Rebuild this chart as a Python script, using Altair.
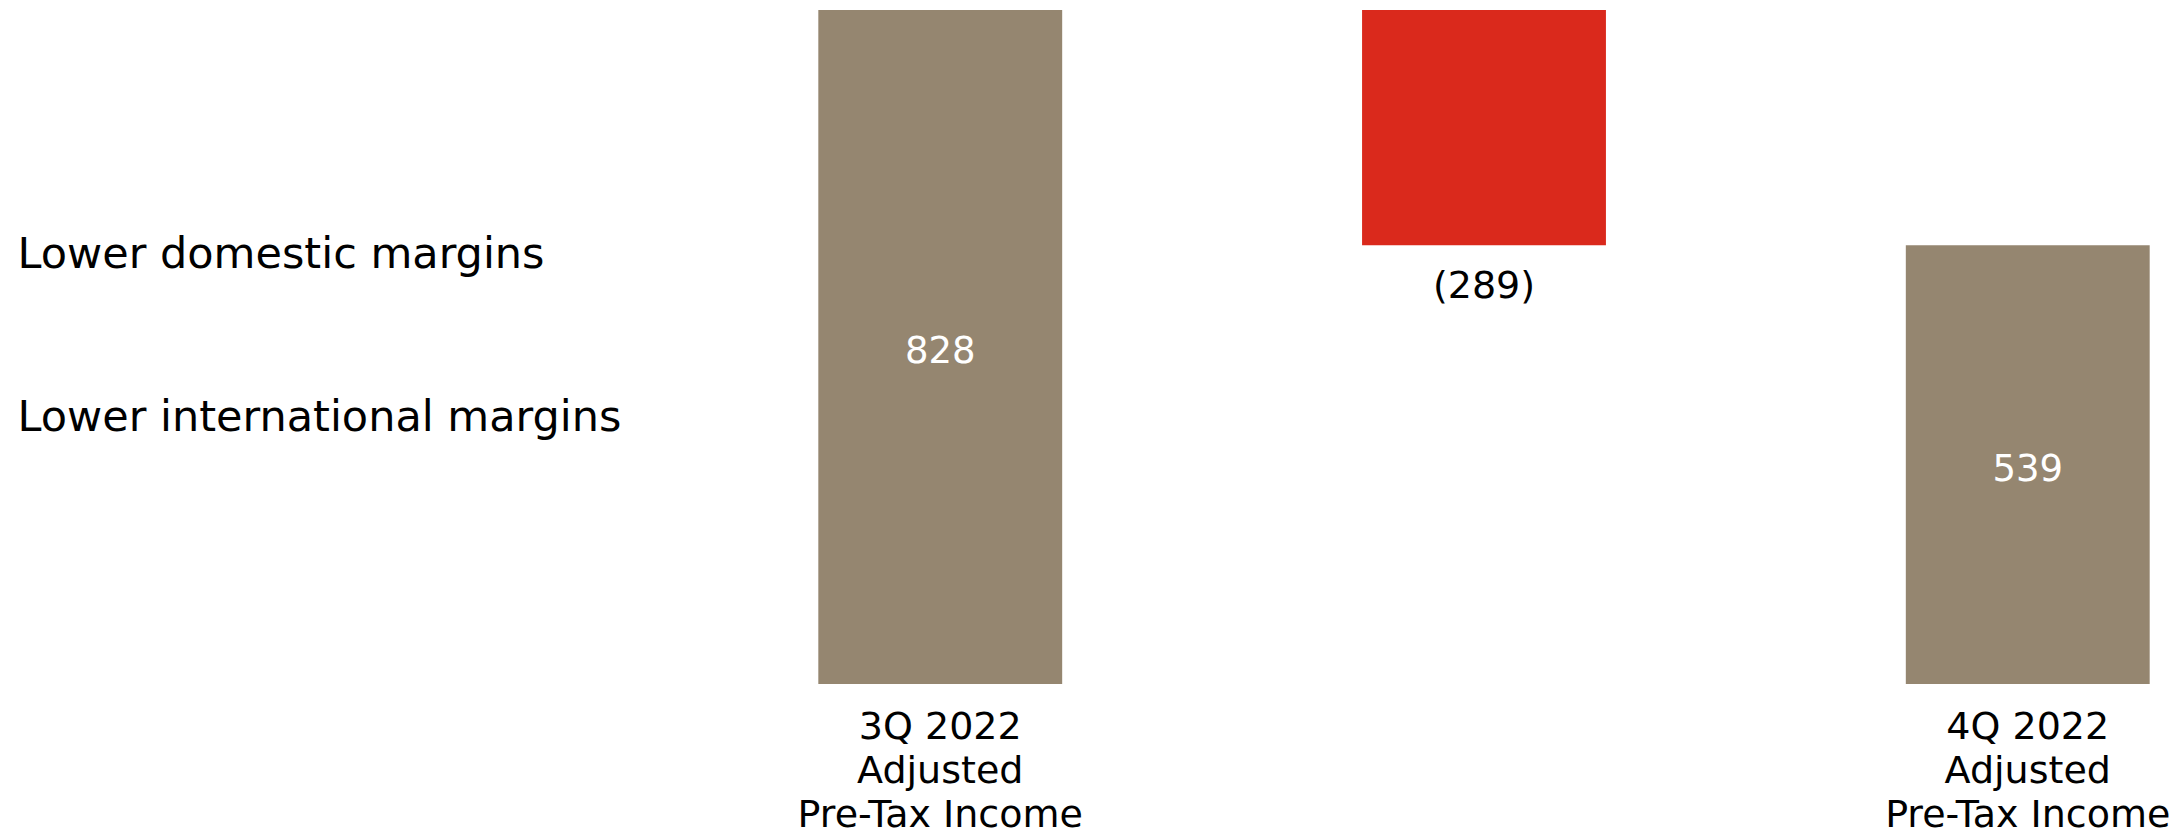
import altair as alt
import pandas as pd

# --- data ---
categories = ["3Q 2022\nAdjusted\nPre-Tax Income", "Change", "4Q 2022\nAdjusted\nPre-Tax Income"]
kinds = ["total", "delta", "total"]
values = [828, -289, 539]
value_labels = ["828", "(289)", "539"]

side_labels = ["Lower domestic margins", "Lower international margins"]
side_label_levels = [528, 327]

TAN = "#958670"
RED = "#DA291C"
FONT = "DejaVu Sans"

# build waterfall table
rows = []
running = 0
for cat, kind, v, lab in zip(categories, kinds, values, value_labels):
    if kind == "total":
        lo, hi = 0, v
        running = v
    else:
        start = running
        running = running + v
        lo, hi = min(start, running), max(start, running)
    rows.append({"cat": cat, "kind": kind, "lo": lo, "hi": hi,
                 "mid": (lo + hi) / 2, "label": lab})
df = pd.DataFrame(rows)

label_expr = " : ".join(
    [f"datum.value == {lvl} ? '{txt}'" for lvl, txt in zip(side_label_levels, side_labels)] + ["''"]
)

x_enc = alt.X("cat:N", sort=categories, title=None,
              scale=alt.Scale(paddingInner=0.5515, paddingOuter=0.03),
              axis=alt.Axis(labelAngle=0, domain=False, ticks=False,
                            labelExpr="datum.label == 'Change' ? '' : split(datum.label, '\\n')",
                            labelFontSize=38, labelFont=FONT, labelColor="#000000",
                            labelLineHeight=44, labelPadding=24, labelLimit=0,
                            labelOverlap=False))

y_scale = alt.Scale(domain=[0, 828], nice=False, zero=True)

base = alt.Chart(df)

bars = base.mark_bar().encode(
    x=x_enc,
    y=alt.Y("lo:Q", scale=y_scale, title=None,
            axis=alt.Axis(values=side_label_levels, labelExpr=label_expr,
                          grid=False, domain=False, ticks=False,
                          labelAlign="left", labelBaseline="middle",
                          labelPadding=785, labelFontSize=43, labelFont=FONT,
                          labelColor="#000000", labelLimit=0)),
    y2="hi:Q",
    color=alt.Color("kind:N", scale=alt.Scale(domain=["total", "delta"], range=[TAN, RED]),
                    legend=None),
)

inside = base.transform_filter(alt.datum.kind == "total").mark_text(
    color="white", fontSize=37, font=FONT, baseline="middle", dy=5
).encode(x=alt.X("cat:N", sort=categories), y=alt.Y("mid:Q"), text="label:N")

below = base.transform_filter(alt.datum.kind == "delta").mark_text(
    color="black", fontSize=38, font=FONT, baseline="middle", dy=42
).encode(x=alt.X("cat:N", sort=categories), y=alt.Y("lo:Q"), text="label:N")

chart = alt.layer(bars, inside, below).properties(
    width=1364, height=674,
    autosize=alt.AutoSizeParams(type="none"),
    padding={"left": 802, "top": 10, "right": 9, "bottom": 145},
    background="white",
).configure_view(stroke=None, strokeWidth=0)

chart.save("out.html", embed_options={"renderer": "svg", "actions": False})
